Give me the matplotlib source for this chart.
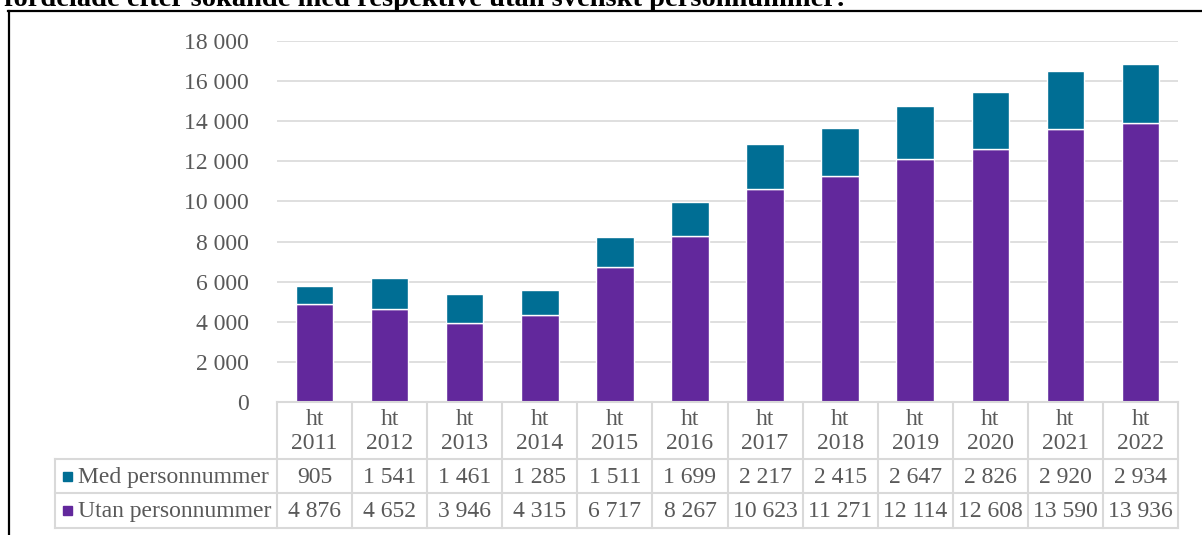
import matplotlib
matplotlib.use("Agg")
import matplotlib.pyplot as plt
from matplotlib.lines import Line2D
from matplotlib.patches import Rectangle

plt.rcParams['font.family'] = ['Liberation Serif', 'DejaVu Serif']

years = ["2011", "2012", "2013", "2014", "2015", "2016",
         "2017", "2018", "2019", "2020", "2021", "2022"]
med = [905, 1541, 1461, 1285, 1511, 1699, 2217, 2415, 2647, 2826, 2920, 2934]
utan = [4876, 4652, 3946, 4315, 6717, 8267, 10623, 11271, 12114, 12608, 13590, 13936]
series_names = ["Med personnummer", "Utan personnummer"]
yticks = [0, 2000, 4000, 6000, 8000, 10000, 12000, 14000, 16000, 18000]

c_med = "#006E94"
c_utan = "#62289C"
grey = "#595959"
grid_c = "#D9D9D9"

W, H = 1202, 535
fig = plt.figure(figsize=(W / 100, H / 100), dpi=100)

def fx(px):
    return px / W

def fy(py):
    return 1 - py / H

def fmt(v):
    return f"{v:,}".replace(",", " ")

# main plot area
x_left, x_right = 277, 1178
y_top, y_bot = 41, 402
ax = fig.add_axes([fx(x_left), fy(y_bot), fx(x_right - x_left), (y_bot - y_top) / H])
x = list(range(len(years)))
ax.bar(x, utan, width=0.5, color=c_utan, edgecolor="white", linewidth=1, zorder=3)
ax.bar(x, med, bottom=utan, width=0.5, color=c_med, edgecolor="white", linewidth=1, zorder=3)
ax.set_xlim(-0.5, len(years) - 0.5)
ax.set_ylim(0, 18000)
ax.set_yticks(yticks)
ax.set_yticklabels([fmt(v) for v in yticks])
ax.tick_params(axis="y", length=0, pad=20, labelsize=17, labelcolor=grey)
ax.set_xticks([])
ax.grid(axis="y", color=grid_c, linewidth=1.2, zorder=0)
for s in ax.spines.values():
    s.set_visible(False)

# data table below
leg_left = 55
col_w = (x_right - x_left) / len(years)
xmin = -0.5 - (x_left - leg_left) / col_w
tax = fig.add_axes([fx(leg_left), fy(528), fx(x_right - leg_left), (528 - 402) / H])
tax.set_xlim(xmin, len(years) - 0.5)
tax.set_ylim(528, 402)
tax.axis("off")

r0, r1, r2, r3 = 402, 459, 493, 528
lw = 1.5
tax.plot([-0.5, len(years) - 0.5], [r0, r0], color=grid_c, lw=lw, clip_on=False)
for yy in (r1, r2, r3):
    tax.plot([xmin, len(years) - 0.5], [yy, yy], color=grid_c, lw=lw, clip_on=False)
tax.plot([xmin, xmin], [r1, r3], color=grid_c, lw=lw, clip_on=False)
for i in range(len(years) + 1):
    tax.plot([i - 0.5, i - 0.5], [r0, r3], color=grid_c, lw=lw, clip_on=False)

fs = 17
for i, yr in enumerate(years):
    tax.text(i, (r0 + r1) / 2 + 1, "ht\n" + yr, ha="center", va="center",
             fontsize=fs, color=grey, linespacing=1.2)
    tax.text(i, (r1 + r2) / 2 + 1, fmt(med[i]), ha="center", va="center", fontsize=fs, color=grey)
    tax.text(i, (r2 + r3) / 2 + 1, fmt(utan[i]), ha="center", va="center", fontsize=fs, color=grey)

sq = 9 / col_w
for (yy0, yy1), name, col in [((r1, r2), series_names[0], c_med), ((r2, r3), series_names[1], c_utan)]:
    yc = (yy0 + yy1) / 2
    tax.add_patch(Rectangle((xmin + 8 / col_w, yc - 4.5), sq, 9, color=col, clip_on=False))
    tax.text(xmin + 23 / col_w, yc + 1, name, ha="left", va="center", fontsize=fs, color=grey)

# frame and title (cut off at the top edge, as in the source)
fig.add_artist(Line2D([fx(8.5), fx(8.5)], [fy(11), 0], color="black", lw=1.6))
fig.add_artist(Line2D([fx(8), 1], [fy(11), fy(11)], color="black", lw=1.6))
fig.text(fx(4), fy(5.5), "fördelade efter sökande med respektive utan svenskt personnummer:",
         ha="left", va="baseline", fontsize=20.5, fontweight="bold", color="black")

fig.savefig("out.png", dpi=100)
